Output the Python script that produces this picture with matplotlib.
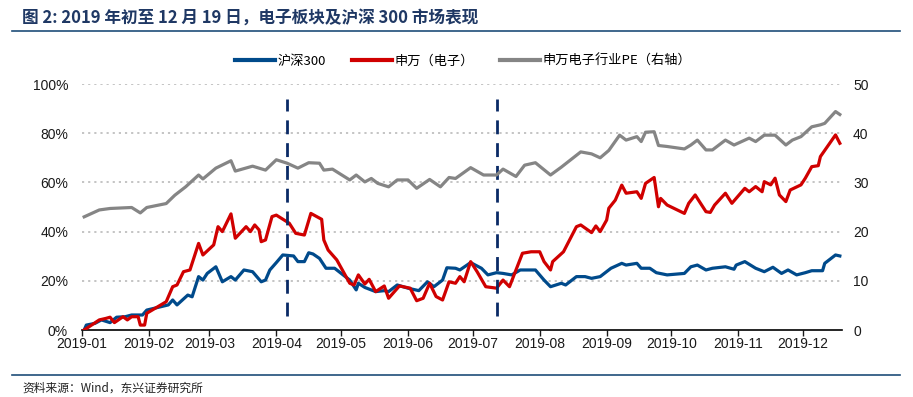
import matplotlib
matplotlib.use("Agg")
import matplotlib.pyplot as plt
import matplotlib.dates as mdates
import pandas as pd
from matplotlib.lines import Line2D

# ---------------- data ----------------
hs300_dates = ["2019-01-02","2019-01-03","2019-01-07","2019-01-10","2019-01-14","2019-01-17","2019-01-21",
    "2019-01-24","2019-01-29","2019-01-31","2019-02-10","2019-02-12","2019-02-14","2019-02-19","2019-02-21",
    "2019-02-24","2019-02-26","2019-02-28","2019-03-04","2019-03-07","2019-03-11","2019-03-13","2019-03-17",
    "2019-03-21","2019-03-25","2019-03-27","2019-03-29","2019-04-01","2019-04-04","2019-04-09","2019-04-11",
    "2019-04-14","2019-04-16","2019-04-18","2019-04-21","2019-04-24","2019-04-28","2019-05-05","2019-05-08",
    "2019-05-09","2019-05-12","2019-05-17","2019-05-21","2019-05-23","2019-05-27","2019-06-01","2019-06-06",
    "2019-06-10","2019-06-13","2019-06-17","2019-06-19","2019-06-23","2019-06-25","2019-06-30","2019-07-05",
    "2019-07-08","2019-07-12","2019-07-15","2019-07-19","2019-07-23","2019-07-30","2019-08-03","2019-08-06",
    "2019-08-11","2019-08-13","2019-08-18","2019-08-22","2019-08-25","2019-08-29","2019-09-03","2019-09-08",
    "2019-09-10","2019-09-15","2019-09-17","2019-09-21","2019-09-24","2019-09-29","2019-10-07","2019-10-10",
    "2019-10-13","2019-10-17","2019-10-20","2019-10-26","2019-10-30","2019-10-31","2019-11-04","2019-11-09",
    "2019-11-13","2019-11-17","2019-11-21","2019-11-24","2019-11-28","2019-12-02","2019-12-05","2019-12-10",
    "2019-12-11","2019-12-16","2019-12-18"]
hs300_vals = [0.0,2.0,2.7,4.1,3.0,5.2,5.4,6.1,6.1,8.1,10.2,12.2,10.2,14.2,13.5,21.7,20.3,23.0,25.7,19.6,
    21.7,20.3,24.4,23.7,19.6,20.3,24.4,27.4,30.5,30.1,27.8,27.8,31.4,30.9,29.1,25.1,25.1,20.3,16.3,19.0,
    17.3,15.6,16.0,15.6,18.3,17.0,16.0,19.6,17.6,20.3,25.3,25.1,24.4,27.4,25.1,22.4,23.3,23.0,22.4,24.4,
    24.4,20.3,17.6,19.0,18.3,21.7,21.7,21.0,21.7,25.1,27.1,26.4,27.1,25.1,25.1,23.3,22.4,23.0,25.7,26.4,
    24.4,25.1,25.7,24.7,26.4,27.8,25.1,23.7,25.5,23.0,24.4,22.4,23.3,24.1,24.1,27.1,30.5,30.1]

sw_dates = ["2019-01-02","2019-01-09","2019-01-12","2019-01-14","2019-01-16","2019-01-20","2019-01-22",
    "2019-01-24","2019-01-27","2019-01-28","2019-01-30","2019-01-31","2019-02-09","2019-02-12","2019-02-14",
    "2019-02-17","2019-02-20","2019-02-24","2019-02-26","2019-03-03","2019-03-05","2019-03-07","2019-03-11",
    "2019-03-13","2019-03-18","2019-03-20","2019-03-22","2019-03-24","2019-03-25","2019-03-27","2019-03-30",
    "2019-04-01","2019-04-07","2019-04-10","2019-04-14","2019-04-17","2019-04-22","2019-04-23","2019-04-25",
    "2019-04-29","2019-05-05","2019-05-07","2019-05-09","2019-05-12","2019-05-14","2019-05-17","2019-05-21",
    "2019-05-23","2019-05-28","2019-06-02","2019-06-05","2019-06-08","2019-06-11","2019-06-14","2019-06-17",
    "2019-06-20","2019-06-23","2019-06-25","2019-06-27","2019-06-30","2019-07-03","2019-07-07","2019-07-12",
    "2019-07-15","2019-07-18","2019-07-24","2019-07-28","2019-08-01","2019-08-03","2019-08-06","2019-08-07",
    "2019-08-12","2019-08-18","2019-08-20","2019-08-25","2019-08-27","2019-08-29","2019-09-01","2019-09-02",
    "2019-09-05","2019-09-08","2019-09-10","2019-09-15","2019-09-17","2019-09-19","2019-09-23","2019-09-25",
    "2019-09-26","2019-09-29","2019-10-07","2019-10-09","2019-10-12","2019-10-15","2019-10-17","2019-10-19",
    "2019-10-21","2019-10-26","2019-10-29","2019-11-04","2019-11-06","2019-11-09","2019-11-12","2019-11-13",
    "2019-11-16","2019-11-18","2019-11-20","2019-11-23","2019-11-25","2019-11-30","2019-12-02","2019-12-05",
    "2019-12-08","2019-12-09","2019-12-16","2019-12-18"]
sw_vals = [0.0,4.1,4.7,5.2,3.0,5.4,4.1,5.4,5.4,2.0,2.0,6.8,11.5,17.6,18.3,23.7,24.4,35.2,30.5,34.6,42.0,
    40.0,47.2,37.3,42.0,40.0,42.7,40.7,35.9,36.6,46.1,46.7,43.4,39.3,38.6,47.4,45.0,36.6,32.5,28.5,19.0,
    18.3,22.4,18.7,20.6,15.6,17.9,12.9,17.9,17.0,11.9,12.9,19.0,13.6,12.2,19.6,19.0,21.7,19.6,27.8,23.7,
    17.6,17.0,20.3,17.6,31.2,31.8,31.8,27.8,24.4,27.8,31.8,42.0,42.7,39.6,42.3,40.0,44.7,49.5,52.8,58.9,
    55.6,56.2,53.5,59.6,62.0,50.1,53.5,50.8,47.4,51.5,54.9,50.8,48.1,47.8,50.8,55.6,51.5,57.6,56.2,58.3,
    56.2,60.3,59.0,61.7,54.9,52.2,56.9,59.0,61.7,66.4,66.8,70.5,79.3,75.9]

pe_dates = ["2019-01-02","2019-01-09","2019-01-14","2019-01-24","2019-01-28","2019-01-31","2019-02-09",
    "2019-02-13","2019-02-18","2019-02-24","2019-02-26","2019-03-04","2019-03-11","2019-03-13","2019-03-21",
    "2019-03-27","2019-04-01","2019-04-06","2019-04-11","2019-04-16","2019-04-21","2019-04-23","2019-04-27",
    "2019-05-05","2019-05-08","2019-05-12","2019-05-15","2019-05-18","2019-05-23","2019-05-27","2019-06-01",
    "2019-06-05","2019-06-11","2019-06-16","2019-06-20","2019-06-23","2019-06-30","2019-07-06","2019-07-12",
    "2019-07-15","2019-07-21","2019-07-25","2019-07-30","2019-08-06","2019-08-11","2019-08-20","2019-08-25",
    "2019-08-29","2019-09-02","2019-09-07","2019-09-10","2019-09-15","2019-09-17","2019-09-19","2019-09-23",
    "2019-09-25","2019-09-29","2019-10-07","2019-10-10","2019-10-13","2019-10-17","2019-10-20","2019-10-26",
    "2019-10-30","2019-11-06","2019-11-09","2019-11-13","2019-11-18","2019-11-23","2019-11-26","2019-11-30",
    "2019-12-05","2019-12-09","2019-12-11","2019-12-16","2019-12-18"]
pe_vals = [23.0,24.4,24.7,24.9,23.8,24.9,25.7,27.4,29.1,31.5,30.7,32.9,34.4,32.3,33.3,32.5,34.6,33.9,32.9,
    34.0,33.9,32.5,32.7,30.5,31.5,30.1,30.8,29.8,29.1,30.5,30.5,28.8,30.6,29.1,31.0,30.8,33.0,31.5,31.5,
    32.7,31.2,33.5,34.0,31.5,33.1,36.2,35.8,35.0,36.5,39.6,38.6,39.3,38.3,40.2,40.3,37.5,37.3,36.8,37.6,
    38.6,36.6,36.6,38.6,37.6,39.0,38.3,39.6,39.6,37.6,38.6,39.3,41.3,41.7,42.0,44.4,43.8]

event_dates = ["2019-04-06", "2019-07-12"]
month_ticks = ["2019-%02d-01" % m for m in range(1, 13)]

title = "图 2: 2019 年初至 12 月 19 日，电子板块及沪深 300 市场表现"
source = "资料来源：Wind，东兴证券研究所"
names = ["沪深300", "申万（电子）", "申万电子行业PE（右轴）"]

# ---------------- style ----------------
CJK = ["Noto Sans CJK SC", "DejaVu Sans"]
LAT = ["Liberation Sans", "Noto Sans CJK SC"]
plt.rcParams["font.family"] = LAT
BLUE, RED, GRAY = "#004A8B", "#D00000", "#858585"

fig = plt.figure(figsize=(9.13, 3.97), dpi=100)
ax = fig.add_axes([82/913, 67/397, 760/913, 246/397])
ax2 = ax.twinx()

ax.plot(pd.to_datetime(hs300_dates), hs300_vals, color=BLUE, lw=2.3, solid_joinstyle="round", zorder=3)
ax.plot(pd.to_datetime(sw_dates), sw_vals, color=RED, lw=2.3, solid_joinstyle="round", zorder=4)
ax2.plot(pd.to_datetime(pe_dates), pe_vals, color=GRAY, lw=2.3, solid_joinstyle="round", zorder=3)

for d in event_dates:
    ax.plot([pd.Timestamp(d)]*2, [5.5, 94], color="#0A2A66", lw=2.0, dashes=(5, 3.2), zorder=5)

ax.set_xlim(pd.Timestamp("2019-01-01"), pd.Timestamp("2019-12-19"))
ax.set_ylim(0, 100)
ax2.set_ylim(0, 50)
ax.set_yticks([0, 20, 40, 60, 80, 100])
ax.set_yticklabels([f"{v}%" for v in [0, 20, 40, 60, 80, 100]])
ax2.set_yticks([0, 10, 20, 30, 40, 50])
ax.set_xticks(pd.to_datetime(month_ticks))
ax.xaxis.set_major_formatter(mdates.DateFormatter("%Y-%m"))

for y in [20, 40, 60, 80, 100]:
    ax.axhline(y, color="#BFBFBF", lw=1.3, ls=(0, (1.2, 2.2)), zorder=1)

for a in (ax, ax2):
    for s in ["top", "left", "right", "bottom"]:
        a.spines[s].set_visible(False)
ax.spines["bottom"].set_visible(True)
ax.spines["bottom"].set_color("black")
ax.spines["bottom"].set_linewidth(1.2)

ax.tick_params(axis="y", length=0, labelsize=10, pad=10, colors="#1a1a1a")
ax2.tick_params(axis="y", length=0, labelsize=10, pad=8, colors="#1a1a1a")
ax.tick_params(axis="x", length=4, width=1, labelsize=10, pad=1, colors="#1a1a1a")

# legend
handles = [Line2D([], [], color=c, lw=3) for c in (BLUE, RED, GRAY)]
fig.legend(handles, names, loc="center", bbox_to_anchor=(463/913, 1-61/397), ncol=3,
           frameon=False, handlelength=3.0, handletextpad=0.2, columnspacing=2.0,
           prop={"family": CJK, "size": 9.5})

# title and rules
fig.text(22/913, 1-18/397, title, ha="left", va="center", fontsize=12, fontweight="bold",
         color="#1F3864", family=CJK)
fig.add_artist(Line2D([12/913, 900/913], [1-31/397]*2, color="#1F4E79", lw=1.2))
fig.add_artist(Line2D([12/913, 900/913], [1-375/397]*2, color="#1F4E79", lw=1.2))
fig.text(22/913, 1-388/397, source, ha="left", va="center", fontsize=8.5, color="#222222",
         family=CJK, style="italic")

fig.savefig("out.png", dpi=100)
